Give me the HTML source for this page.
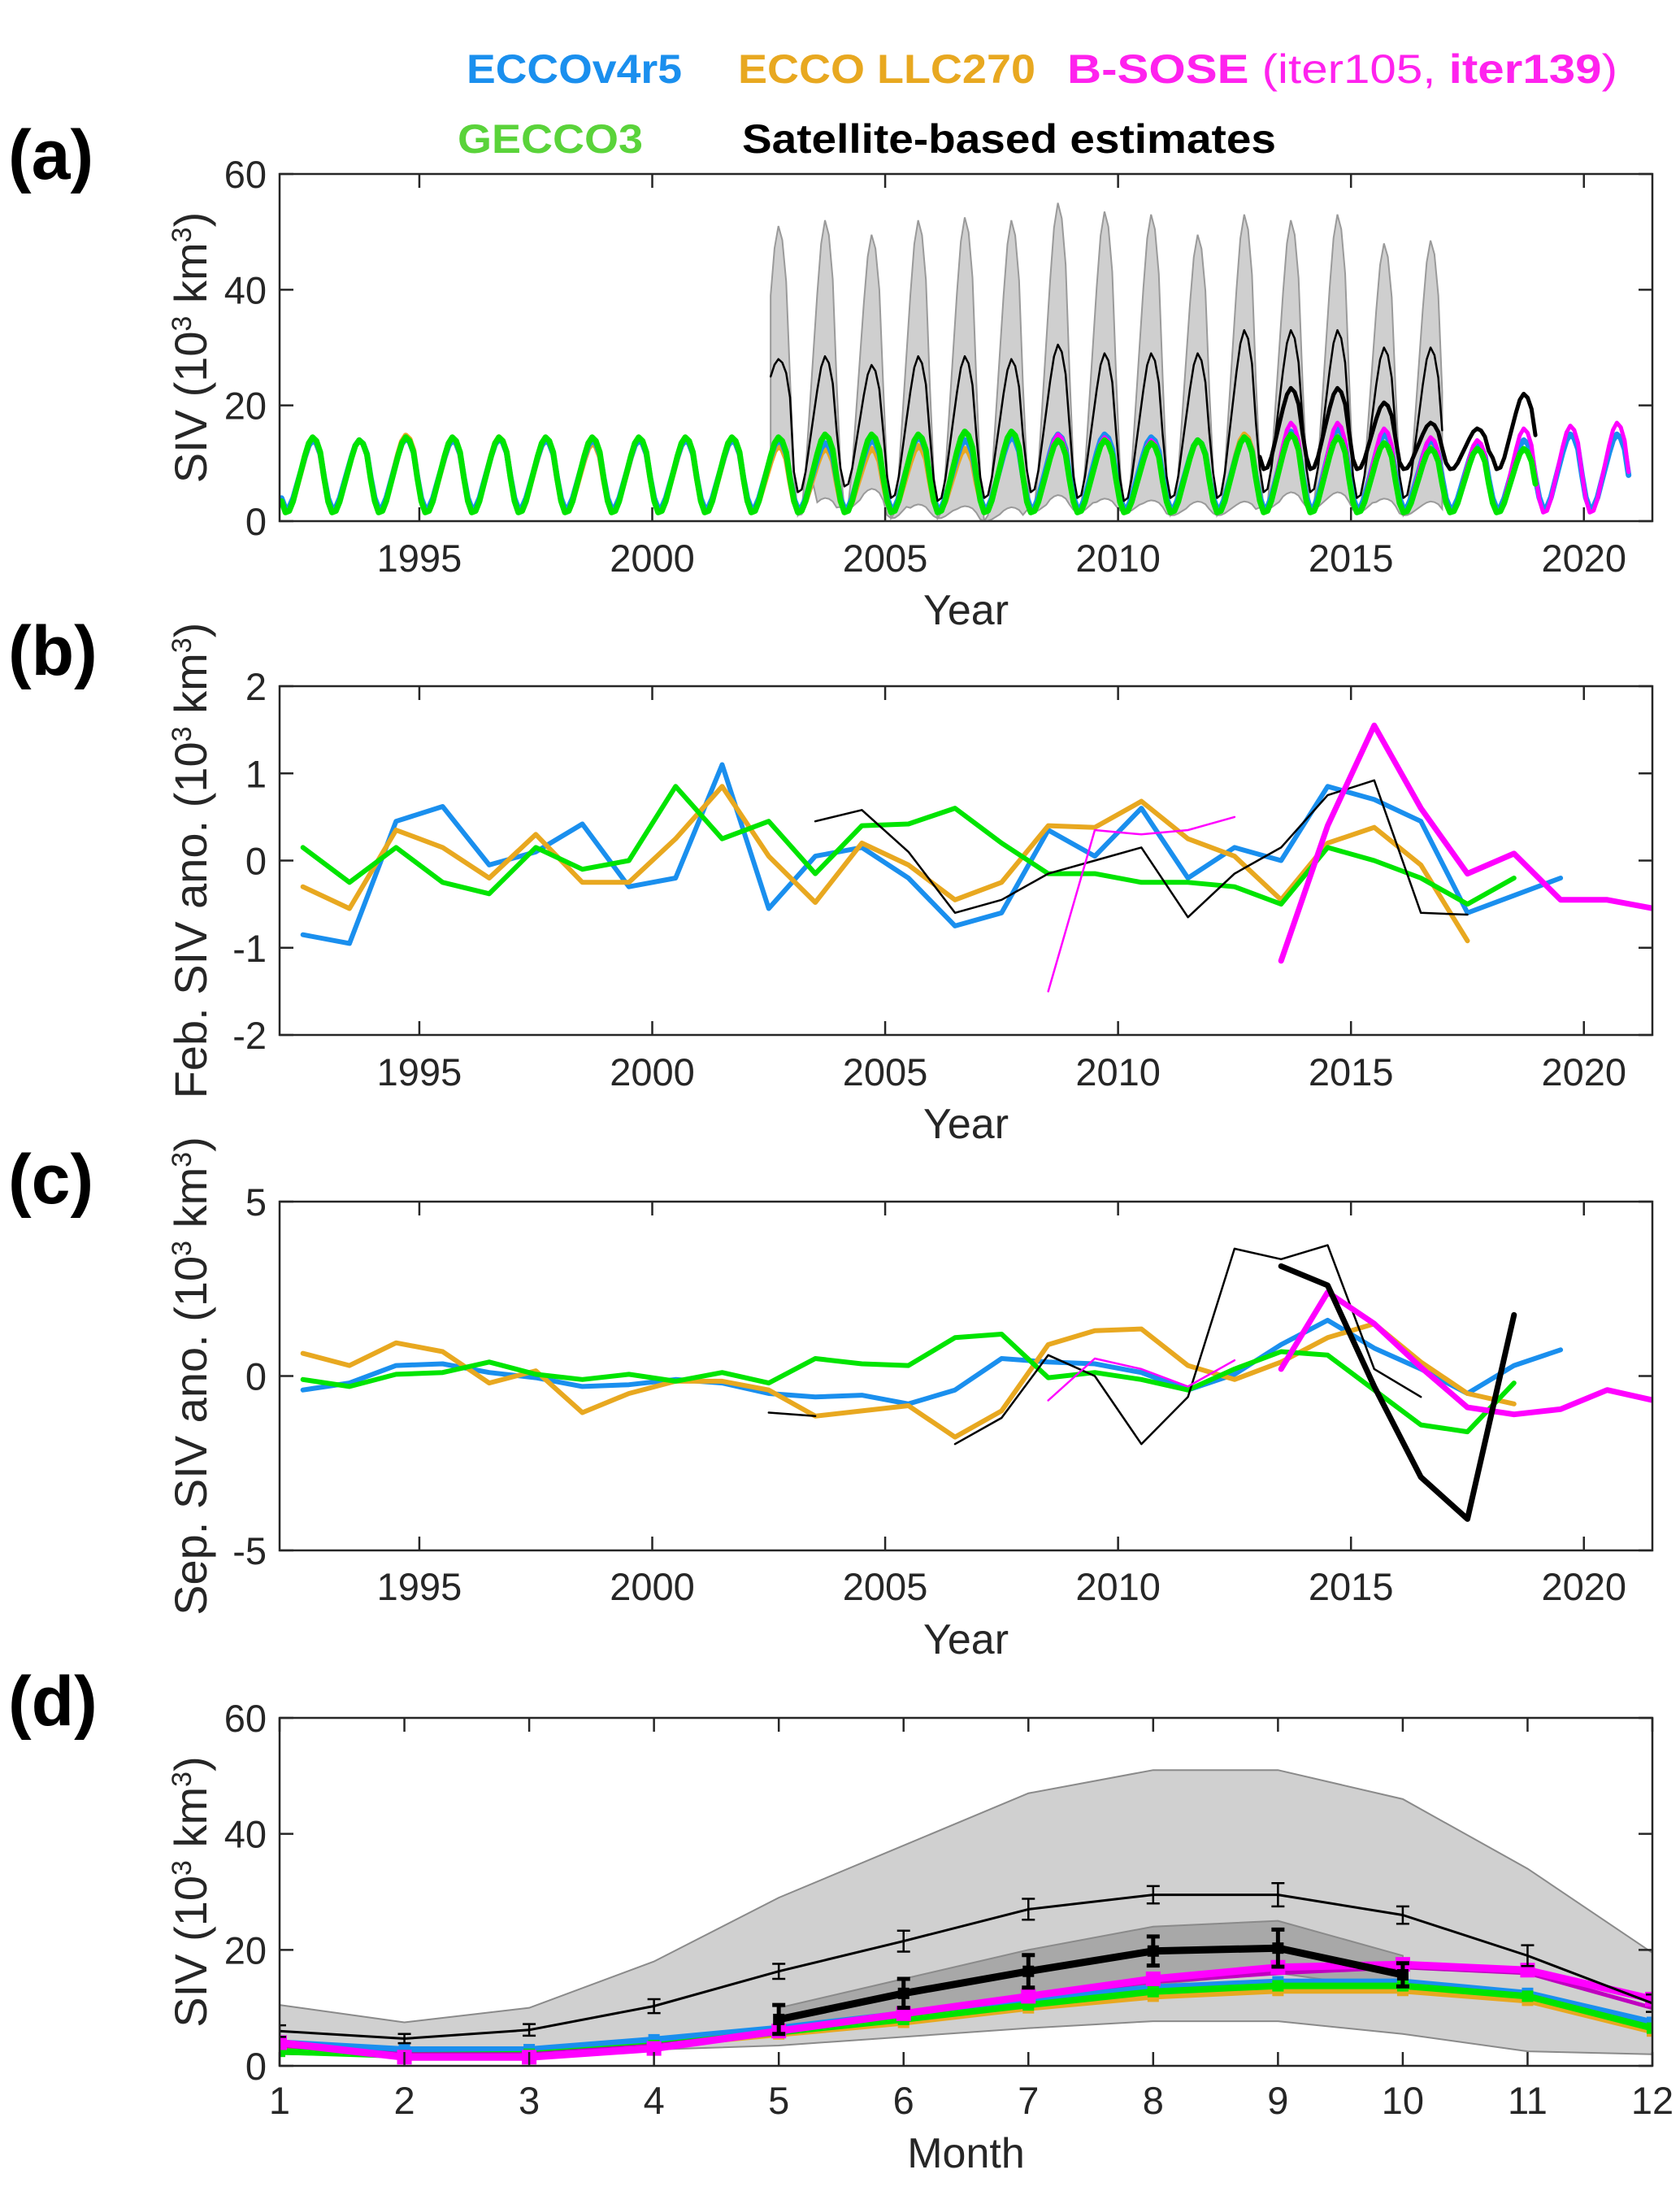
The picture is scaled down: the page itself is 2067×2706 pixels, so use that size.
<!DOCTYPE html>
<html><head><meta charset="utf-8"><style>
html,body{margin:0;padding:0;background:#fff}
svg{display:block;font-family:"Liberation Sans",sans-serif}
</style></head><body>
<svg id="fig" width="2067" height="2706" viewBox="0 0 2067 2706" xmlns="http://www.w3.org/2000/svg">
<g id="legend" font-weight="bold" font-size="50">
 <text x="574" y="102" fill="#1a8fee" textLength="265" lengthAdjust="spacingAndGlyphs">ECCOv4r5</text>
 <text x="908" y="102" fill="#e8a820" textLength="366" lengthAdjust="spacingAndGlyphs">ECCO LLC270</text>
 <text x="1313" y="102" fill="#ff22ee" textLength="677" lengthAdjust="spacingAndGlyphs">B-SOSE <tspan font-weight="normal">(iter105,</tspan> iter139<tspan font-weight="normal">)</tspan></text>
 <text x="563" y="188" fill="#5ad33a" textLength="228" lengthAdjust="spacingAndGlyphs">GECCO3</text>
 <text x="913" y="188" fill="#000" textLength="657" lengthAdjust="spacingAndGlyphs">Satellite-based estimates</text>
</g>
<g font-weight="bold" font-size="86">
 <text x="10" y="220">(a)</text>
 <text x="10" y="830">(b)</text>
 <text x="10" y="1480">(c)</text>
 <text x="10" y="2122">(d)</text>
</g>
<g id="plots"></g>
</svg>
<script>
// ---------- data ----------
const shapeClim = [0.15,0.0,0.02,0.15,0.35,0.55,0.75,0.92,1.0,0.95,0.8,0.45];
const modelYearsA = [1992,1993,1994,1995,1996,1997,1998,1999,2000,2001,2002,2003,2004,2005,2006,2007,2008,2009,2010,2011,2012,2013,2014,2015,2016,2017,2018,2019,2020];
const blueMaxA   = [14,14,14.3,14,14.2,14,14,14,14,14,14,13.5,14,14.5,14,14.5,15,15,14.5,14,14.5,15.5,16,15,14,13.5,14,15,15];
const orangeMaxA = [14,14,14.8,14,14.5,14,13.5,14,14,14,13,12.5,12.5,13,12.5,15,15,14.5,14,14,15,15,15,13.5,13];
const greenMaxA  = [14.5,14,14.5,14.5,14.5,14.5,14.5,14.5,14.5,14.5,14.5,15,15,15,15.5,15.5,14,14,13.5,14,14.5,15,14.5,13.5,12.5,12.5,12.5];
const magMaxA    = [15,14.5,14,14,14.5,17,17,16,14.5,14,16,16.5,17];
const magYearsA  = [2008,2009,2010,2011,2012,2013,2014,2015,2016,2017,2018,2019,2020];
const satYearsA  = [2002,2003,2004,2005,2006,2007,2008,2009,2010,2011,2012,2013,2014,2015,2016];
const satMaxA    = [28,28.5,27,28.5,28.5,28,30.5,29,29,29,33,33,33,30,30];
const satMinA    = [16,5,6,4,3.5,4,5,4,3.5,4,4,5,5,4,4];
const bandMaxA   = [51,52,49.5,52,52.5,52,55,53.5,53,49.5,53,52,53,48,48.5];
const bandMinA   = [3,1,2,0.5,0.5,0,1.5,1.5,1.5,1,1,2,2,1.5,1];
const thickYearsA= [2013,2014,2015,2016,2017,2018];
const thickMaxA  = [23,23,20.5,17,16,22];

const yrsB = [1992.5,1993.5,1994.5,1995.5,1996.5,1997.5,1998.5,1999.5,2000.5,2001.5,2002.5,2003.5,2004.5,2005.5,2006.5,2007.5,2008.5,2009.5,2010.5,2011.5,2012.5,2013.5,2014.5,2015.5,2016.5,2017.5,2018.5,2019.5,2020.5,2021.5];
const blueB   = [-0.85,-0.95,0.45,0.62,-0.05,0.1,0.42,-0.3,-0.2,1.1,-0.55,0.05,0.15,-0.2,-0.75,-0.6,0.35,0.05,0.6,-0.2,0.15,0.0,0.85,0.7,0.45,-0.6,-0.4,-0.2];
const orangeB = [-0.3,-0.55,0.35,0.15,-0.2,0.3,-0.25,-0.25,0.25,0.85,0.05,-0.48,0.2,-0.05,-0.45,-0.25,0.4,0.38,0.68,0.25,0.05,-0.45,0.2,0.38,-0.05,-0.92];
const greenB  = [0.15,-0.25,0.15,-0.25,-0.38,0.15,-0.1,0.0,0.85,0.25,0.45,-0.15,0.4,0.42,0.6,0.2,-0.15,-0.15,-0.25,-0.25,-0.3,-0.5,0.15,0.0,-0.2,-0.5,-0.2];
const blackYrsB = [2003.5,2004.5,2005.5,2006.5,2007.5,2008.5,2009.5,2010.5,2011.5,2012.5,2013.5,2014.5,2015.5,2016.5,2017.5];
const blackB    = [0.45,0.58,0.1,-0.6,-0.45,-0.15,0.0,0.15,-0.65,-0.15,0.15,0.75,0.92,-0.6,-0.62];
const magThinYrsB = [2008.5,2009.5,2010.5,2011.5,2012.5];
const magThinB    = [-1.5,0.35,0.3,0.35,0.5];
const magThickYrsB= [2013.5,2014.5,2015.5,2016.5,2017.5,2018.5,2019.5,2020.5,2021.5];
const magThickB   = [-1.15,0.4,1.55,0.6,-0.15,0.08,-0.45,-0.45,-0.55];

const blueC   = [-0.4,-0.2,0.3,0.35,0.1,-0.05,-0.3,-0.25,-0.1,-0.2,-0.5,-0.6,-0.55,-0.8,-0.4,0.5,0.4,0.35,0.1,-0.4,0.05,0.9,1.6,0.8,0.2,-0.5,0.3,0.75];
const orangeC = [0.65,0.3,0.95,0.7,-0.2,0.15,-1.05,-0.5,-0.15,-0.15,-0.4,-1.15,-1.0,-0.85,-1.75,-1.0,0.9,1.3,1.35,0.3,-0.1,0.4,1.1,1.5,0.4,-0.5,-0.8];
const greenC  = [-0.1,-0.3,0.05,0.1,0.4,0.05,-0.1,0.05,-0.15,0.1,-0.2,0.5,0.35,0.3,1.1,1.2,-0.05,0.1,-0.1,-0.4,0.2,0.7,0.6,-0.4,-1.4,-1.6,-0.2];
const blackSegYrsC = [2002.5,2003.5];
const blackSegC    = [-1.05,-1.15];
const blackYrsC = [2006.5,2007.5,2008.5,2009.5,2010.5,2011.5,2012.5,2013.5,2014.5,2015.5,2016.5];
const blackC    = [-1.95,-1.2,0.6,0.0,-1.95,-0.6,3.65,3.35,3.75,0.2,-0.6];
const blackThickYrsC = [2013.5,2014.5,2015.5,2016.5,2017.5,2018.5];
const blackThickC    = [3.15,2.6,-0.3,-2.9,-4.1,1.75];
const magThinC  = [-0.7,0.5,0.2,-0.3,0.45];
const magThickC = [0.2,2.4,1.5,0.25,-0.9,-1.1,-0.95,-0.4,-0.7];

const months = [1,2,3,4,5,6,7,8,9,10,11,12];
const bandUpD = [10.5,7.5,10,18,29,38,47,51,51,46,34,19.5];
const bandLoD = [2,1.8,2.3,2.8,3.5,5,6.5,7.7,7.7,5.5,2.5,2];
const innerMonthsD = [5,6,7,8,9,10];
const innerUpD = [10,15,20,24,25,19];
const innerLoD = [5.5,8,11,14,16,13];
const satThinD = [6,4.7,6.2,10.3,16.3,21.5,27,29.5,29.5,26,19,10.8];
const satThinErrD = [1,0.8,1,1.2,1.3,1.8,1.8,1.5,2,1.5,1.8,1.5];
const satThickD = [8,12.5,16.3,19.8,20.3,15.7];
const satThickErrD = [2.5,2.5,2.8,2.5,3.2,2];
const blueD   = [4,2.8,2.8,4.5,6.5,9,11.5,13.5,14.5,14.5,12.5,7.5];
const orangeD = [3,1.8,2,3.5,5.5,7.5,10,12,13,13,11.3,6];
const greenD  = [2.5,1.8,2,3.5,5.8,8,10.5,12.8,13.8,13.8,12,6.5];
const magThickD = [4,1.5,1.5,3,6,9,12,15,17,17.5,16.5,11.5];
const magThinD  = [3.5,2,2,3.5,6,9,12,14.5,16,17,16,10];

// ---------- drawing ----------
const NS="http://www.w3.org/2000/svg";
const root=document.getElementById('plots');
const BLUE="#1a8fee",ORANGE="#e8a820",GREEN="#00e400",MAG="#ff00ff",MAGD="#c000c0";
function el(tag,attrs,parent){const e=document.createElementNS(NS,tag);for(const k in attrs)e.setAttribute(k,attrs[k]);(parent||root).appendChild(e);return e;}
const L=344,R=2033;
function mkAxes(top,bot,xmin,xmax,ymin,ymax){
  return {x:v=>L+(v-xmin)/(xmax-xmin)*(R-L), y:v=>bot-(v-ymin)/(ymax-ymin)*(bot-top), top, bot};
}
function poly(ax,xs,ys,style,name,g){
  let d='';for(let i=0;i<ys.length&&i<xs.length;i++){d+=(i?'L':'M')+ax.x(xs[i]).toFixed(1)+','+ax.y(ys[i]).toFixed(1);}
  const p=el('path',Object.assign({d,fill:'none','stroke-linejoin':'round','stroke-linecap':'round'},style),g);
  
  
  return p;
}
function frame(ax,xt,xl,yt,yl,ylab,xlab,name,tickLabY,xlabY){
  const g=el('g',{});
  
  
  el('rect',{x:L,y:ax.top,width:R-L,height:ax.bot-ax.top,fill:'none',stroke:'#262626','stroke-width':2.5},g);
  xt.forEach((v,i)=>{const X=ax.x(v);
    el('line',{x1:X,y1:ax.bot,x2:X,y2:ax.bot-17,stroke:'#262626','stroke-width':2.5},g);
    el('line',{x1:X,y1:ax.top,x2:X,y2:ax.top+17,stroke:'#262626','stroke-width':2.5},g);
    const t=el('text',{x:X,y:tickLabY,'text-anchor':'middle','font-size':47,fill:'#262626'},g);t.textContent=xl[i];
    
    
  });
  yt.forEach((v,i)=>{const Y=ax.y(v);
    el('line',{x1:L,y1:Y,x2:L+17,y2:Y,stroke:'#262626','stroke-width':2.5},g);
    el('line',{x1:R,y1:Y,x2:R-17,y2:Y,stroke:'#262626','stroke-width':2.5},g);
    const t=el('text',{x:328,y:Y+17,'text-anchor':'end','font-size':47,fill:'#262626'},g);t.textContent=yl[i];
    
    
  });
  const yc=(ax.top+ax.bot)/2;
  const t=el('text',{x:0,y:0,transform:`translate(254,${yc}) rotate(-90)`,'text-anchor':'middle','font-size':56,fill:'#262626'},g);
  t.innerHTML=ylab;
  
  
  const xt2=el('text',{x:(L+R)/2,y:xlabY,'text-anchor':'middle','font-size':52,fill:'#262626'},g);xt2.textContent=xlab;
  
  
}
const XMIN=1992,XMAX=2021.47;
const yearTicks=[1995,2000,2005,2010,2015,2020];
const units='(10<tspan baseline-shift="super" font-size="34">3</tspan> km<tspan baseline-shift="super" font-size="34">3</tspan>)';

// clip paths
const defs=el('defs',{});
[['ca',214,641],['cb',844,1273],['cc',1478,1907],['cd',2113,2541]].forEach(c=>{
  const cp=el('clipPath',{id:c[0]},defs);el('rect',{x:L,y:c[1],width:R-L,height:c[2]-c[1]},cp);
});

// ---- panel a ----
const axA=mkAxes(214,641,XMIN,XMAX,0,60);
const gA=el('g',{'clip-path':'url(#ca)'});


function seasonal(years,maxs,mins,start){
  const xs=[],ys=[];
  years.forEach((y,i)=>{if(maxs[i]===undefined)return;const mn=Array.isArray(mins)?mins[i]:mins;
    for(let m=0;m<12;m++){const t=y+(m+0.5)/12;if(start&&t<start)continue;xs.push(t);ys.push(mn+(maxs[i]-mn)*shapeClim[m]);}});
  return [xs,ys];
}
(function(){
  const [xu,yu]=seasonal(satYearsA,bandMaxA,bandMinA,2002.5);
  const [xl,yl]=seasonal(satYearsA,bandMinA.map(v=>v),bandMinA,2002.5);
  const lowVals=yl.map((v,i)=>v+ (satMinA[Math.floor(i/12)]||4)*0.6*shapeClim[(i+6)%12]);
  let d='';xu.forEach((x,i)=>d+=(i?'L':'M')+axA.x(x)+','+axA.y(yu[i]));
  for(let i=xl.length-1;i>=0;i--)d+='L'+axA.x(xl[i])+','+axA.y(lowVals[i]);
  const p=el('path',{d:d+'Z',fill:'#cfcfcf',stroke:'#9a9a9a','stroke-width':2},gA);
  
  
})();
let s;
s=seasonal(modelYearsA,orangeMaxA,1.8);poly(axA,s[0],s[1],{stroke:ORANGE,'stroke-width':7},'ecco-llc270-line',gA);
s=seasonal(modelYearsA,blueMaxA,2.2);poly(axA,s[0],s[1],{stroke:BLUE,'stroke-width':7},'eccov4r5-line',gA);
s=seasonal(magYearsA,magMaxA,1.5);poly(axA,s[0],s[1],{stroke:MAG,'stroke-width':5},'bsose-line',gA);
s=seasonal(modelYearsA.slice(0,27),greenMaxA,1.5);poly(axA,s[0],s[1],{stroke:GREEN,'stroke-width':7},'gecco3-line',gA);
s=seasonal(satYearsA,satMaxA,satMinA,2002.5);poly(axA,s[0],s[1],{stroke:'#000','stroke-width':2.5},'satellite-thin-line',gA);
s=seasonal(thickYearsA,thickMaxA,9);poly(axA,s[0],s[1],{stroke:'#000','stroke-width':5},'satellite-thick-line',gA);
frame(axA,yearTicks,yearTicks.map(String),[0,20,40,60],['0','20','40','60'],'SIV '+units,'Year','panel-a',703,768);

// ---- panel b ----
const axB=mkAxes(844,1273,XMIN,XMAX,-2,2);
const gB=el('g',{'clip-path':'url(#cb)'});


poly(axB,yrsB,blueB,{stroke:BLUE,'stroke-width':6},'eccov4r5-feb-line',gB);
poly(axB,yrsB,orangeB,{stroke:ORANGE,'stroke-width':6},'ecco-llc270-feb-line',gB);
poly(axB,yrsB,greenB,{stroke:GREEN,'stroke-width':6},'gecco3-feb-line',gB);
poly(axB,blackYrsB,blackB,{stroke:'#000','stroke-width':2.5},'satellite-feb-line',gB);
poly(axB,magThinYrsB,magThinB,{stroke:MAG,'stroke-width':2.5},'bsose-iter105-feb-line',gB);
poly(axB,magThickYrsB,magThickB,{stroke:MAG,'stroke-width':7},'bsose-iter139-feb-line',gB);
frame(axB,yearTicks,yearTicks.map(String),[-2,-1,0,1,2],['-2','-1','0','1','2'],'Feb. SIV ano. '+units,'Year','panel-b',1335,1400);

// ---- panel c ----
const axC=mkAxes(1478,1907,XMIN,XMAX,-5,5);
const gC=el('g',{'clip-path':'url(#cc)'});


poly(axC,yrsB,blueC,{stroke:BLUE,'stroke-width':6},'eccov4r5-sep-line',gC);
poly(axC,yrsB,orangeC,{stroke:ORANGE,'stroke-width':6},'ecco-llc270-sep-line',gC);
poly(axC,yrsB,greenC,{stroke:GREEN,'stroke-width':6},'gecco3-sep-line',gC);
poly(axC,blackSegYrsC,blackSegC,{stroke:'#000','stroke-width':2.5},'satellite-sep-segment',gC);
poly(axC,blackYrsC,blackC,{stroke:'#000','stroke-width':2.5},'satellite-sep-line',gC);
poly(axC,magThinYrsB,magThinC,{stroke:MAG,'stroke-width':2.5},'bsose-iter105-sep-line',gC);
poly(axC,magThickYrsB,magThickC,{stroke:MAG,'stroke-width':7},'bsose-iter139-sep-line',gC);
poly(axC,blackThickYrsC,blackThickC,{stroke:'#000','stroke-width':7},'satellite-thick-sep-line',gC);
frame(axC,yearTicks,yearTicks.map(String),[-5,0,5],['-5','0','5'],'Sep. SIV ano. '+units,'Year','panel-c',1968,2034);

// ---- panel d ----
const axD=mkAxes(2113,2541,1,12,0,60);
const gD=el('g',{'clip-path':'url(#cd)'});


function band(ax,xs,up,lo,fill,name,g){
  let d='';xs.forEach((x,i)=>d+=(i?'L':'M')+ax.x(x)+','+ax.y(up[i]));
  for(let i=xs.length-1;i>=0;i--)d+='L'+ax.x(xs[i])+','+ax.y(lo[i]);
  const p=el('path',{d:d+'Z',fill,stroke:'#8a8a8a','stroke-width':2},g);
  
  
}
band(axD,months,bandUpD,bandLoD,'#d0d0d0','satellite-range-band',gD);
band(axD,innerMonthsD,innerUpD,innerLoD,'#a8a8a8','satellite-thick-range-band',gD);
function marks(ax,xs,ys,color,sz,name,g){
  xs.forEach((x,i)=>{const r=el('rect',{x:ax.x(x)-sz/2,y:ax.y(ys[i])-sz/2,width:sz,height:sz,fill:color},g);
    
    });
}
function errbars(ax,xs,ys,es,w,name,g){
  xs.forEach((x,i)=>{const X=ax.x(x),y1=ax.y(ys[i]-es[i]),y2=ax.y(ys[i]+es[i]);
    const e=el('path',{d:`M${X},${y1}L${X},${y2}M${X-8},${y1}L${X+8},${y1}M${X-8},${y2}L${X+8},${y2}`,stroke:'#000','stroke-width':w,fill:'none'},g);
    
    });
}
poly(axD,months,orangeD,{stroke:ORANGE,'stroke-width':8},'ecco-llc270-clim-line',gD);marks(axD,months,orangeD,ORANGE,14,'ecco-llc270-marker',gD);
poly(axD,months,blueD,{stroke:BLUE,'stroke-width':8},'eccov4r5-clim-line',gD);marks(axD,months,blueD,BLUE,14,'eccov4r5-marker',gD);
poly(axD,months,greenD,{stroke:GREEN,'stroke-width':8},'gecco3-clim-line',gD);marks(axD,months,greenD,GREEN,14,'gecco3-marker',gD);
poly(axD,months,magThinD,{stroke:MAGD,'stroke-width':5},'bsose-iter105-clim-line',gD);
poly(axD,months,magThickD,{stroke:MAG,'stroke-width':9},'bsose-iter139-clim-line',gD);marks(axD,months,magThickD,MAG,18,'bsose-marker',gD);
poly(axD,months,satThinD,{stroke:'#000','stroke-width':3},'satellite-clim-line',gD);
errbars(axD,months,satThinD,satThinErrD,2.5,'satellite-errorbar',gD);
poly(axD,innerMonthsD,satThickD,{stroke:'#000','stroke-width':9},'satellite-thick-clim-line',gD);
errbars(axD,innerMonthsD,satThickD,satThickErrD,5,'satellite-thick-errorbar',gD);
marks(axD,innerMonthsD,satThickD,'#000',14,'satellite-thick-marker',gD);
frame(axD,months,months.map(String),[0,20,40,60],['0','20','40','60'],'SIV '+units,'Month','panel-d',2600,2666);
</script>
</body></html>
